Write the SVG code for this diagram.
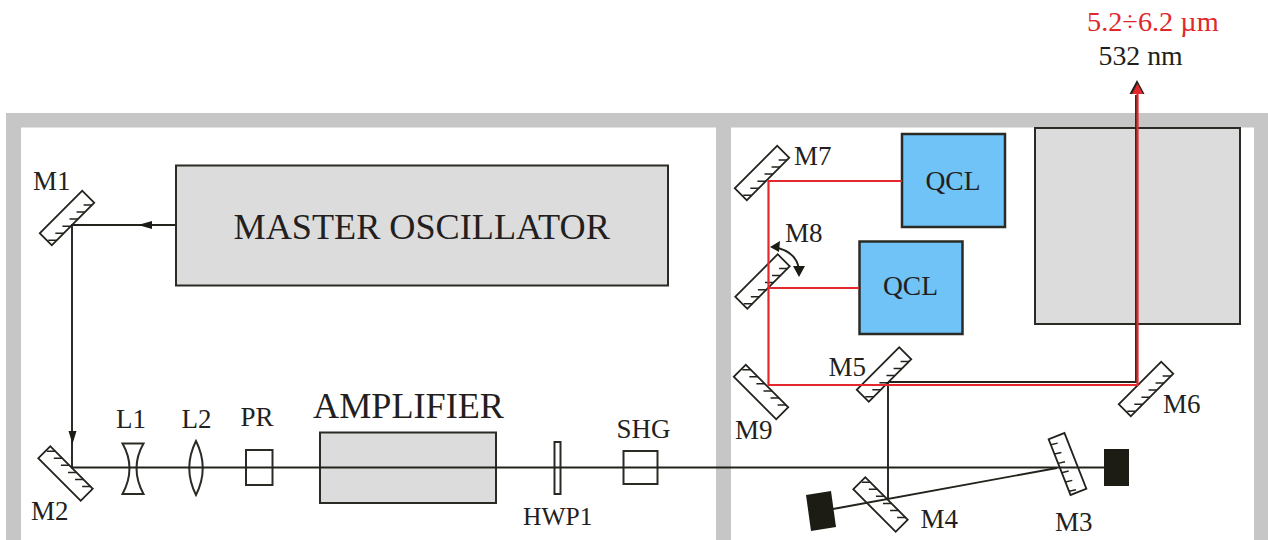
<svg xmlns="http://www.w3.org/2000/svg" width="1268" height="540" viewBox="0 0 1268 540">
<style>
text{font-family:"Liberation Serif","Times New Roman",serif;font-size:27px;fill:#231f20}
.big{font-size:36.200px}
.qcl{font-size:27.500px}
.red{fill:#e0272c;font-size:28.300px}
.blk{font-size:27.800px}
.box{fill:#dcdcdc;stroke:#2b2b25;stroke-width:2}
.blue{fill:#6fc3f7;stroke:#2b2b25;stroke-width:2.500}
.el{fill:none;stroke:#2b2b25;stroke-width:2}
.m{fill:none;stroke:#23231d;stroke-width:1.800}
.t{fill:none;stroke:#23231d;stroke-width:1.500}
.bk{fill:none;stroke:#23231d;stroke-width:1.900}
.rd{fill:none;stroke:#e3282e;stroke-width:2.200}
.frame{fill:#c6c6c6}
.dark{fill:#1c1c14}
</style>
<defs>
<g id="mirror">
<rect class="m" x="-30" y="-8.500" width="60" height="17"/>
<path class="t" d="M-23 8.500l-6-6M-13 8.500l-6-6M-3 8.500l-6-6M7 8.500l-6-6M17 8.500l-6-6M27 8.500l-6-6"/>
</g>
</defs>
<rect width="1268" height="540" fill="#fff"/>
<g id="frame">
<rect class="frame" x="6" y="113" width="1262" height="14.500"/>
<rect class="frame" x="6" y="113" width="15" height="427"/>
<rect class="frame" x="716" y="113" width="15" height="427"/>
<rect class="frame" x="1254" y="113" width="14" height="427"/>
</g>
<g id="master-oscillator"><rect class="box" x="176" y="165.500" width="492" height="120"/><text class="big" x="233.500" y="239">MASTER OSCILLATOR</text></g>
<g id="amplifier"><rect class="box" x="320" y="432.500" width="176" height="70.500"/><text class="big" x="313" y="418">AMPLIFIER</text></g>
<g id="gray-box"><rect class="box" x="1035" y="128" width="205" height="196"/></g>
<g id="qcl1"><rect class="blue" x="902" y="134" width="103" height="93"/><text class="qcl" x="925.500" y="190">QCL</text></g>
<g id="qcl2"><rect class="blue" x="859.500" y="241.500" width="103" height="92.500"/><text class="qcl" x="883" y="295">QCL</text></g>
<g id="m1"><use href="#mirror" transform="translate(67 218) rotate(-45)"/><text x="33" y="190">M1</text></g>
<g id="m2"><use href="#mirror" transform="translate(65.500 473.500) rotate(45) scale(1 -1)"/><text x="31" y="520">M2</text></g>
<g id="m3"><g transform="translate(1067.500 464) rotate(68.600)"><rect class="m" x="-30" y="-8.500" width="60" height="17"/><path class="t" d="M-24 8.500l1-7M-14 8.500l1-7M-4 8.500l1-7M6 8.500l1-7M16 8.500l1-7M26 8.500l1-7"/></g><text x="1055" y="530.500">M3</text></g>
<g id="m4"><use href="#mirror" transform="translate(880.500 504.500) rotate(45) scale(1 -1)"/><text x="920.500" y="528">M4</text></g>
<g id="m5"><use href="#mirror" transform="translate(884 374.500) rotate(-45)"/><text x="828.500" y="375.500">M5</text></g>
<g id="m6"><use href="#mirror" transform="translate(1146 389) rotate(-45)"/><text x="1163" y="413">M6</text></g>
<g id="m7"><use href="#mirror" transform="translate(762 173) rotate(-45)"/><text x="794" y="165">M7</text></g>
<g id="m8"><use href="#mirror" transform="translate(762.500 281.500) rotate(-45)"/><text x="785" y="242">M8</text>
<path class="bk" d="M773 247Q797 251 799 270"/><path class="dark" d="M770 247l10-6-1 11zM799 277l-6-11 12 0z"/></g>
<g id="m9"><use href="#mirror" transform="translate(761 392) rotate(45) scale(1 -1)"/><text x="735" y="439">M9</text></g>
<g id="l1"><path class="el" d="M122.500 443.500H143.500Q129.500 468 143.500 494H122.500Q136.500 468 122.500 443.500Z"/><text x="116" y="427.500">L1</text></g>
<g id="l2"><path class="el" d="M196 441Q182.500 468 196 495Q209.500 468 196 441Z"/><text x="181.500" y="427.500">L2</text></g>
<g id="pr"><rect class="el" x="246" y="450" width="26.500" height="35"/><text x="240.500" y="425.500">PR</text></g>
<g id="hwp1"><rect class="el" x="554.500" y="442" width="6" height="52"/><text style="font-size:25.500px" x="523" y="525">HWP1</text></g>
<g id="shg"><rect class="el" x="623.500" y="451" width="34" height="33"/><text x="616.500" y="438">SHG</text></g>
<g id="beam-dump1"><rect class="dark" x="1104" y="449" width="25" height="37"/></g>
<g id="beam-dump2"><polygon class="dark" points="806,495 831,491 836,527 811,531"/></g>
<g id="output-labels"><text class="red" x="1087" y="31">5.2÷6.2 µm</text><text class="blk" x="1098.500" y="64.500">532 nm</text></g>
<g id="connectors">
<path class="bk" d="M175 225H72V467.500H1104"/>
<path class="dark" d="M138 225l14-4v8zM72.500 444l-4-13h8z"/>
<path class="bk" d="M1057 468L833 509M888 383V498M888 382H1136V95"/>
<path class="rd" d="M902 181H768.500V385H1137.500V92M859 288H768.500"/>
<path d="M1137 80l-7.500 14h15z" fill="#23231d"/><path d="M1137.500 83.500l-5.500 10.500h11z" fill="#e3282e"/>
</g>
</svg>
